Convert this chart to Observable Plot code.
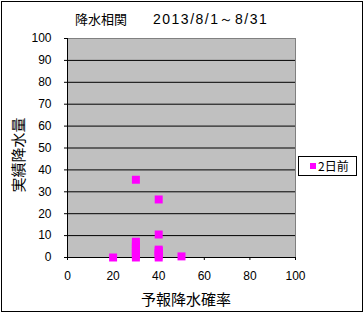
<!DOCTYPE html>
<html><head><meta charset="utf-8">
<script src="https://cdn.jsdelivr.net/npm/d3@7"></script>
<script src="https://cdn.jsdelivr.net/npm/@observablehq/plot@0.6"></script>
<style>
html,body{margin:0;padding:0;background:#fff;}
#wrap{position:relative;width:364px;height:312px;font-family:"Noto Sans CJK JP",sans-serif;}
#frame{position:absolute;left:1px;top:1px;width:360px;height:309px;border:1px solid #000;pointer-events:none;}
#title{position:absolute;left:75px;top:11px;font-size:13px;line-height:16px;white-space:nowrap;}
#title .d{position:absolute;left:78px;top:0;font-family:"Liberation Sans",Arial,sans-serif;font-size:14px;letter-spacing:1.5px;}
#ylab{position:absolute;left:17px;top:155px;transform:translate(-50%,-50%) rotate(-90deg);font-size:15px;white-space:nowrap;}
#xlab{position:absolute;left:186px;top:288px;transform:translateX(-50%);font-size:15px;white-space:nowrap;}
#legend{position:absolute;left:298px;top:156px;width:59px;height:20px;border:1px solid #000;font-size:12px;line-height:18px;box-sizing:border-box;}
#legend span.sw{position:absolute;left:11px;top:6px;width:6px;height:6px;background:#ff00ff;}
#legend span.tx{position:absolute;left:19px;top:0;}
</style></head>
<body><div id="wrap">
<div id="title"><span>降水相関</span><span class="d">2013/8/1～8/31</span></div>
<div id="ylab">実績降水量</div>
<div id="xlab">予報降水確率</div>
<div id="legend"><span class="sw"></span><span class="tx">2日前</span></div>
<div id="frame"></div>
</div>
<script>
const seriesName = "2日前";
const forecastProb = [20, 30, 30, 30, 30, 30, 30, 30, 30, 30, 40, 40, 40, 40, 40, 40, 40, 50];
const actualRain   = [0, 0, 1, 2, 3, 4, 5, 6, 7.2, 35.5, 0, 1, 2, 3, 3.6, 10.5, 26.5, 0.5];
const xTicks = [0, 20, 40, 60, 80, 100];
const yTicks = [0, 10, 20, 30, 40, 50, 60, 70, 80, 90, 100];

const data = forecastProb.map((x, i) => ({x, y: actualRain[i], s: seriesName}));

const chart = Plot.plot({
  width: 364, height: 312,
  marginLeft: 67, marginRight: 69, marginTop: 38, marginBottom: 55,
  style: {fontFamily: "Liberation Sans, Arial, sans-serif", fontSize: "12px", background: "transparent", color: "#000"},
  x: {domain: [0, 100], label: null},
  y: {domain: [0, 100], label: null},
  marks: [
    Plot.frame({fill: "#c0c0c0", stroke: "#808080"}),
    Plot.gridY(yTicks.slice(1, -1), {stroke: "#000", strokeOpacity: 1, strokeWidth: 1}),
    Plot.ruleY([0], {stroke: "#000"}),
    Plot.ruleX([0], {stroke: "#000"}),
    Plot.axisX({ticks: xTicks, tickSize: 3, tickPadding: 11, anchor: "bottom", label: null}),
    Plot.axisY({ticks: yTicks, tickSize: 3, tickPadding: 13, anchor: "left", label: null}),
    Plot.dot(data, {x: "x", y: "y", symbol: "square", r: 4.5, fill: "#ff00ff", stroke: "none"})
  ]
});
document.getElementById("wrap").prepend(chart);
chart.style.position = "absolute"; chart.style.left = "0"; chart.style.top = "0";
</script>
</body></html>
